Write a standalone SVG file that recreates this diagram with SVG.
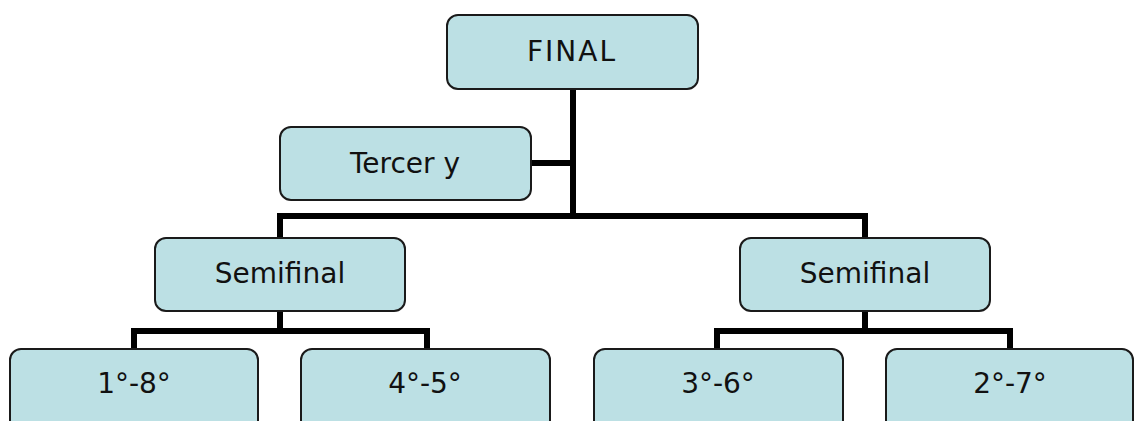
<svg xmlns="http://www.w3.org/2000/svg" width="1134" height="421" viewBox="0 0 1134 421">
<style>
.box{fill:#bce0e4;stroke:#1a1a1a;stroke-width:2}
.lbl{font-family:"DejaVu Sans","Noto Sans",sans-serif;font-size:28px;fill:#111;text-anchor:middle;dominant-baseline:central}
.conn{fill:none;stroke:#000;stroke-width:6;stroke-linejoin:miter;stroke-linecap:butt}
</style>
<rect width="1134" height="421" fill="#fff"/>
<g id="connectors">
<path class="conn" d="M573 89 V216 M531 163 H573 M280 238 V216 H865 V238"/>
<path class="conn" d="M280 311 V331 M134 349 V331 H427 V349"/>
<path class="conn" d="M865 311 V331 M717 349 V331 H1010 V349"/>
</g>
<g id="final"><rect class="box" x="447" y="15" width="251" height="74" rx="11"/><text class="lbl" x="572" y="51" letter-spacing="2">FINAL</text></g>
<g id="tercer"><rect class="box" x="280" y="127" width="251" height="73" rx="11"/><text class="lbl" x="405" y="163">Tercer y</text></g>
<g id="semi-left"><rect class="box" x="155" y="238" width="250" height="73" rx="11"/><text class="lbl" x="280" y="273">Semifinal</text></g>
<g id="semi-right"><rect class="box" x="740" y="238" width="250" height="73" rx="11"/><text class="lbl" x="865" y="273">Semifinal</text></g>
<g id="q18"><rect class="box" x="10" y="349" width="248" height="90" rx="11"/><text class="lbl" x="134" y="383">1°-8°</text></g>
<g id="q45"><rect class="box" x="301" y="349" width="249" height="90" rx="11"/><text class="lbl" x="425" y="383">4°-5°</text></g>
<g id="q36"><rect class="box" x="594" y="349" width="249" height="90" rx="11"/><text class="lbl" x="718" y="383">3°-6°</text></g>
<g id="q27"><rect class="box" x="886" y="349" width="247" height="90" rx="11"/><text class="lbl" x="1010" y="383">2°-7°</text></g>
</svg>
